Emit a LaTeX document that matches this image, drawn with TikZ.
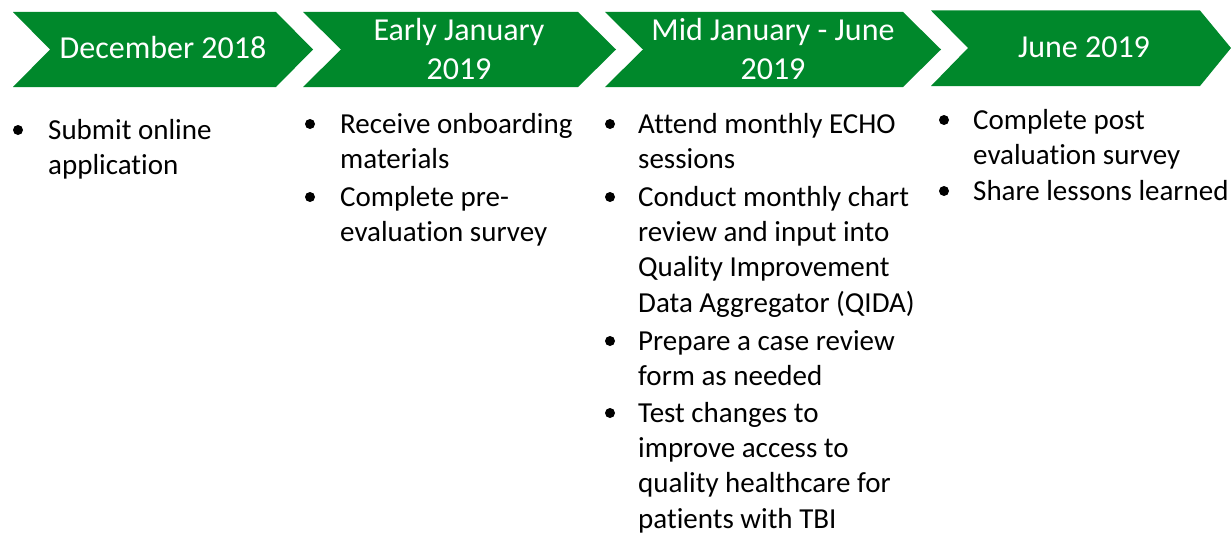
\documentclass[tikz,border=0pt]{standalone}
\usepackage{fontspec}
\setmainfont{Carlito}[RawFeature={-liga;-clig;-calt;-dlig}]
\definecolor{chevgreen}{RGB}{0,136,43}
\tikzset{
  chev/.style={fill=chevgreen},
  head/.style={text=white, font=\fontsize{32}{39}\selectfont, inner sep=0pt, anchor=base},
  body/.style={text=black, font=\fontsize{29}{35.4}\selectfont, inner sep=0pt, anchor=base west},
  bul/.style={circle, fill=black, inner sep=0pt, minimum size=10pt},
}
\begin{document}
\begin{tikzpicture}[x=1pt,y=-1pt]
\useasboundingbox (0,0) rectangle (1231,535);
% chevrons
\fill[chev] (13,12) -- (276,12) -- (313,49.5) -- (276,87) -- (13,87) -- (50,49.5) -- cycle;
\fill[chev] (303,12) -- (578,12) -- (616,49.5) -- (578,87) -- (303,87) -- (341,49.5) -- cycle;
\fill[chev] (605,12) -- (903,12) -- (941,49.5) -- (903,87) -- (605,87) -- (643,49.5) -- cycle;
\fill[chev] (931,10.5) -- (1200,10.5) -- (1231,48) -- (1200,86) -- (931,86) -- (968,48) -- cycle;
% headers
\node[head] (h1) at (163,59) {December 2018};
\node[head] (h2a) at (459,41) {Early January};
\node[head] (h2b) at (459,79) {2019};
\node[head] (h3a) at (773,41) {Mid January - June};
\node[head] (h3b) at (773,79) {2019};
\node[head] (h4) at (1084,58) {June 2019};
% column 1
\node[bul] (b11) at (18,130) {};
\node[body] (t11) at (48,139) {Submit online};
\node[body] (t12) at (48,174.4) {application};
% column 2
\node[bul] (b21) at (310,124) {};
\node[body] (t21) at (340,133) {Receive onboarding};
\node[body] (t22) at (340,168.4) {materials};
\node[bul] (b22) at (310,197) {};
\node[body] (t23) at (340,206) {Complete pre-};
\node[body] (t24) at (340,241.4) {evaluation survey};
% column 3
\node[bul] (b31) at (610,124) {};
\node[body] (t31) at (638,133) {Attend monthly ECHO};
\node[body] (t32) at (638,168.4) {sessions};
\node[bul] (b32) at (610,197) {};
\node[body] (t33) at (638,206) {Conduct monthly chart};
\node[body] (t34) at (638,241.4) {review and input into};
\node[body] (t35) at (638,276.8) {Quality Improvement};
\node[body] (t36) at (638,312.2) {Data Aggregator (QIDA)};
\node[bul] (b33) at (610,341) {};
\node[body] (t37) at (638,350) {Prepare a case review};
\node[body] (t38) at (638,385.4) {form as needed};
\node[bul] (b34) at (610,413) {};
\node[body] (t39) at (638,422) {Test changes to};
\node[body] (t310) at (638,457.4) {improve access to};
\node[body] (t311) at (638,492.8) {quality healthcare for};
\node[body] (t312) at (638,528.2) {patients with TBI};
% column 4
\node[bul] (b41) at (944,120) {};
\node[body] (t41) at (973,129) {Complete post};
\node[body] (t42) at (973,164.4) {evaluation survey};
\node[bul] (b42) at (944,191) {};
\node[body] (t43) at (973,200) {Share lessons learned};
\end{tikzpicture}
\end{document}
